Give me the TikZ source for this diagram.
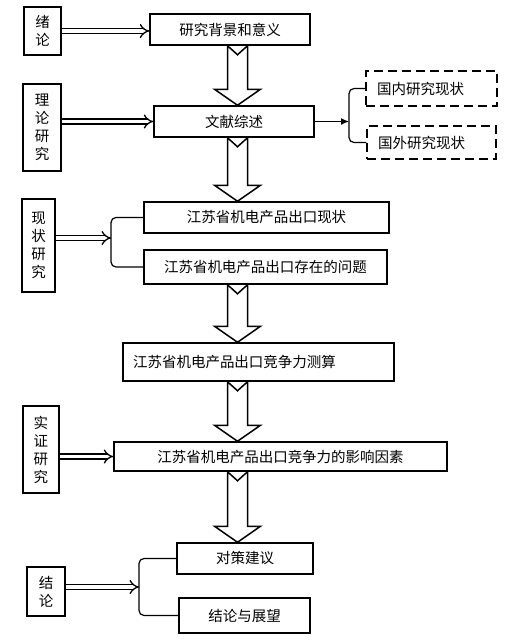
\documentclass[tikz,border=0pt]{standalone}
\usepackage{fontspec}
\setmainfont{Noto Sans CJK SC}
\usetikzlibrary{calc,arrows.meta}

\begin{document}
\begin{tikzpicture}[x=1pt,y=-1pt]
  \tikzstyle{side}=[draw, line width=1.5pt, align=center, inner sep=0pt, font=\fontsize{14.5}{18}\selectfont]
  \tikzstyle{stage}=[draw, line width=1.5pt, inner sep=0pt, font=\fontsize{14.5}{17}\selectfont]
  \tikzstyle{branch}=[stage, dash pattern=on 9pt off 5pt, align=left]
  \tikzstyle{dbl}=[double, double distance=3.5pt, line width=1.3pt, -{Implies[length=7pt,width=14pt]}]
  \tikzstyle{bracketline}=[line width=1.2pt, rounded corners=5pt]
  \tikzstyle{fat}=[line width=1.5pt, to path={let \p1=(\tikztostart), \p2=(\tikztotarget) in
    (\x1-10,\y1) -- (\x1,\y1-9) -- (\x1+10,\y1) -- (\x1+10,\y2+16) -- (\x1+23,\y2+16)
    -- (\x2,\y2) -- (\x1-23,\y2+16) -- (\x1-10,\y2+16) -- cycle}]

  \path[fill=white] (0,0) rectangle (506,641);

  % 左侧研究方法
  \node[side, minimum width=37pt, minimum height=48pt] (xl1) at (42.5,31) {绪\\论};
  \node[side, minimum width=38pt, minimum height=87pt] (xl2) at (42,127.5) {理\\论\\研\\究};
  \node[side, minimum width=33pt, minimum height=93pt] (xl3) at (38.5,245.5) {现\\状\\研\\究};
  \node[side, minimum width=36pt, minimum height=87pt] (xl4) at (41,449.5) {实\\证\\研\\究};
  \node[side, minimum width=38pt, minimum height=49pt] (xl5) at (46,591.5) {结\\论};

  % 主线内容
  \node[stage, minimum width=160pt, minimum height=31pt] (bg) at (230,29.5) {研究背景和意义};
  \node[stage, minimum width=160pt, minimum height=31pt] (lit) at (234,121.5) {文献综述};
  \node[branch, minimum width=131pt, minimum height=35pt, text width=109pt] (dom) at (431.5,88.5) {国内研究现状};
  \node[branch, minimum width=129pt, minimum height=33pt, text width=107pt] (for) at (431.5,142.5) {国外研究现状};
  \node[stage, minimum width=245pt, minimum height=31pt] (cur) at (266.5,217.5) {江苏省机电产品出口现状};
  \node[stage, minimum width=243pt, minimum height=34pt] (prob) at (265.5,267) {江苏省机电产品出口存在的问题};
  \node[stage, minimum width=271pt, minimum height=38pt, text width=251pt, align=left] (meas) at (258.5,362) {江苏省机电产品出口竞争力测算};
  \node[stage, minimum width=333pt, minimum height=29pt] (fac) at (280.5,456.5) {江苏省机电产品出口竞争力的影响因素};
  \node[stage, minimum width=136pt, minimum height=31pt] (sug) at (245,558.5) {对策建议};
  \node[stage, minimum width=131pt, minimum height=35pt] (conc) at (244.5,615.5) {结论与展望};

  \coordinate (ax) at (237.5,0);
  \coordinate (br1) at (349,118);
  \coordinate (br2) at (111,238);
  \coordinate (br3) at (139,587);

  % 双线箭头
  \draw[dbl] (xl1.east) -- (xl1.east -| bg.west);
  \draw[dbl] (xl2.east |- lit.west) -- (lit.west);
  \draw[dbl] (xl3.east |- br2) -- (br2);
  \draw[dbl] (xl4.east |- fac.west) -- (fac.west);
  \draw[dbl] (xl5.east |- br3) -- (br3);

  % 括号
  \draw[bracketline] (dom.west) -- (br1 |- dom.west) -- (br1 |- for.west) -- (for.west);
  \draw[bracketline] (cur.west) -- (br2 |- cur.west) -- (br2 |- prob.west) -- (prob.west);
  \draw[bracketline] (sug.west) -- (br3 |- sug.west) -- (br3 |- conc.west) -- (conc.west);
  \draw[line width=1.2pt, -{Latex[length=8pt,width=7pt]}] (lit.east) -- (lit.east -| br1);

  % 空心大箭头
  \draw[fat] (bg.south -| ax) to (lit.north -| ax);
  \draw[fat] (lit.south -| ax) to (cur.north -| ax);
  \draw[fat] (prob.south -| ax) to (meas.north -| ax);
  \draw[fat] (meas.south -| ax) to (fac.north -| ax);
  \draw[fat] (fac.south -| ax) to (sug.north -| ax);
\end{tikzpicture}
\end{document}
